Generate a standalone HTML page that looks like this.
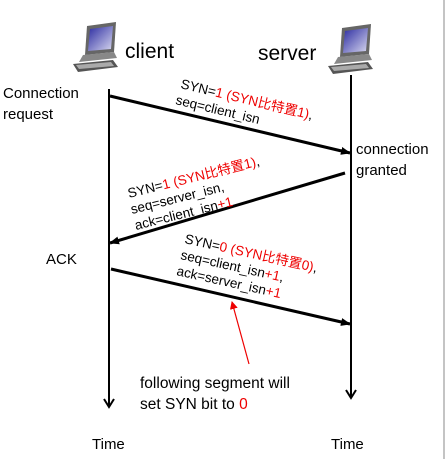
<!DOCTYPE html>
<html><head><meta charset="utf-8"><style>
html,body{margin:0;padding:0;background:#fff;}
svg{display:block;}
text{font-family:"Liberation Sans","Noto Sans CJK SC",sans-serif;fill:#000;}
.r{fill:#e00;}
</style></head><body>
<svg width="445" height="459" viewBox="0 0 445 459" xmlns="http://www.w3.org/2000/svg">
<rect x="0" y="0" width="445" height="459" fill="#fff"/>
<rect x="443" y="0" width="2" height="459" fill="#c4c4c4"/>
<defs>
<linearGradient id="scr" x1="0" y1="0" x2="1" y2="1"><stop offset="0" stop-color="#2a2aa0"/><stop offset="1" stop-color="#d8d8f0"/></linearGradient>
<g id="pc">
<polygon points="14,4 43,0 41,30 12,33" fill="#666"/>
<polygon points="17,7 40,4 38,27 15,29" fill="url(#scr)"/>
<polygon points="10,33 41,30 44,36 6,40" fill="#888"/>
<polygon points="0,42 40,38 45,45 5,50" fill="#555"/>
<polygon points="3,43 38,40 41,44 6,47" fill="#aaa"/>
</g>
<marker id="ah" markerWidth="10" markerHeight="8" refX="9" refY="4" orient="auto" markerUnits="userSpaceOnUse"><path d="M0,0 L10,4 L0,8 z" fill="#000"/></marker>
<marker id="ahr" markerWidth="8" markerHeight="8" refX="7" refY="4" orient="auto" markerUnits="userSpaceOnUse"><path d="M0,0 L8,4 L0,8 z" fill="#e00"/></marker>
</defs>
<use href="#pc" x="73" y="22"/>
<use href="#pc" x="328" y="24"/>
<text x="125" y="58" font-size="21">client</text>
<text x="258" y="60" font-size="21">server</text>

<line x1="109" y1="89" x2="109" y2="407" stroke="#000" stroke-width="2"/>
<polyline points="104,399 109,407 114,399" fill="none" stroke="#000" stroke-width="2"/>
<line x1="351" y1="75" x2="351" y2="398" stroke="#000" stroke-width="2"/>
<polyline points="346,390 351,398 356,390" fill="none" stroke="#000" stroke-width="2"/>

<line x1="110" y1="96" x2="350" y2="153" stroke="#000" stroke-width="3" marker-end="url(#ah)"/>
<line x1="345" y1="173" x2="110" y2="243" stroke="#000" stroke-width="3" marker-end="url(#ah)"/>
<line x1="111" y1="269" x2="350" y2="324" stroke="#000" stroke-width="3" marker-end="url(#ah)"/>
<line x1="249" y1="364" x2="232" y2="302" stroke="#e00" stroke-width="1.2" marker-end="url(#ahr)"/>

<text x="3" y="98" font-size="15">Connection</text>
<text x="3" y="119" font-size="15">request</text>
<text x="356" y="154" font-size="15">connection</text>
<text x="356" y="175" font-size="15">granted</text>
<text x="46" y="264" font-size="15">ACK</text>
<text x="92" y="449" font-size="15">Time</text>
<text x="331" y="449" font-size="15">Time</text>
<text x="140" y="388" font-size="15.5">following segment will</text>
<text x="140" y="409" font-size="15.5">set SYN bit to <tspan class="r">0</tspan></text>

<g font-size="13.5">
<text transform="translate(180,88) rotate(13.5)">SYN=<tspan class="r">1 (SYN比特置1)</tspan>,</text>
<text transform="translate(175,104) rotate(13.5)">seq=client_isn</text>

<text transform="translate(129,198) rotate(-14)">SYN=<tspan class="r">1 (SYN比特置1)</tspan>,</text>
<text transform="translate(132,214) rotate(-14)">seq=server_isn,</text>
<text transform="translate(136,230) rotate(-14)">ack=client_isn<tspan class="r">+1</tspan></text>

<text transform="translate(184,243) rotate(12.5)">SYN=<tspan class="r">0 (SYN比特置0)</tspan>,</text>
<text transform="translate(180,259) rotate(12.5)">seq=client_isn<tspan class="r">+1</tspan>,</text>
<text transform="translate(176,275) rotate(12.5)">ack=server_isn<tspan class="r">+1</tspan></text>
</g>
</svg>
</body></html>
